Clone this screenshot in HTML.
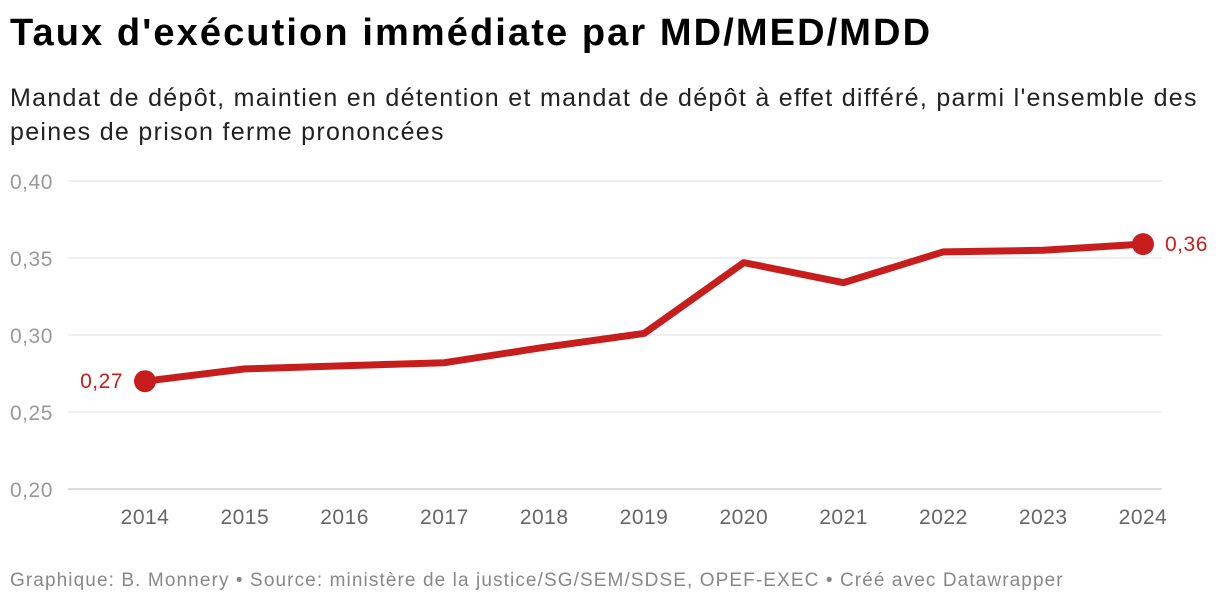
<!DOCTYPE html>
<html><head><meta charset="utf-8">
<style>
body{margin:0;width:1220px;height:606px;background:#fff;font-family:"Liberation Sans",sans-serif;overflow:hidden}
h1{position:absolute;left:10px;top:12px;margin:0;font-size:38px;font-weight:bold;color:#000;letter-spacing:2.1px;white-space:nowrap}
.sub{position:absolute;left:10px;top:81px;font-size:25px;line-height:34px;color:#222;width:1210px;letter-spacing:1.3px;white-space:nowrap}
.foot{position:absolute;left:10px;top:570px;font-size:19px;color:#888;letter-spacing:1.1px;white-space:nowrap}
svg{position:absolute;left:0;top:0}
</style></head><body>
<h1>Taux d'exécution immédiate par MD/MED/MDD</h1>
<div class="sub">Mandat de dépôt, maintien en détention et mandat de dépôt à effet différé, parmi l'ensemble des<br>peines de prison ferme prononcées</div>
<svg id="chart" width="1220" height="606"></svg>
<div class="foot">Graphique: B. Monnery • Source: ministère de la justice/SG/SEM/SDSE, OPEF-EXEC • Créé avec Datawrapper</div>
<script>
const years=["2014","2015","2016","2017","2018","2019","2020","2021","2022","2023","2024"];
const values=[0.270,0.278,0.280,0.282,0.292,0.301,0.347,0.334,0.354,0.355,0.359];
const yTicks=[0.20,0.25,0.30,0.35,0.40];
const yTickLabels=["0,20","0,25","0,30","0,35","0,40"];
const endLabels=["0,27","0,36"];
const NS="http://www.w3.org/2000/svg";
const svg=document.getElementById('chart');
const y=v=>489-(v-0.20)/0.20*308;
const x=i=>145+i*(1143-145)/(years.length-1);
function mk(t,a){const e=document.createElementNS(NS,t);for(const k in a)e.setAttribute(k,a[k]);svg.appendChild(e);return e;}
yTicks.forEach((t,i)=>{
 const l=mk('line',{x1:68,x2:1162,y1:y(t),y2:y(t),stroke:i===0?'#bbb':'#e0e0e0','stroke-width':1});
 
 
 const tx=mk('text',{x:10,y:y(t)+8,'font-size':21,fill:'#999','letter-spacing':0.5});
 tx.textContent=yTickLabels[i];
 
 
});
years.forEach((yr,i)=>{
 const tx=mk('text',{x:x(i),y:524,'font-size':21,fill:'#666','text-anchor':'middle','letter-spacing':0.5});
 tx.textContent=yr;
 
 
});
const p=mk('polyline',{points:values.map((v,i)=>x(i)+','+y(v)).join(' '),fill:'none',stroke:'#c71e1d','stroke-width':7,'stroke-linejoin':'round','stroke-linecap':'round'});


[0,values.length-1].forEach((i,k)=>{
 const c=mk('circle',{cx:x(i),cy:y(values[i]),r:11,fill:'#c71e1d'});
 
 
 const t=mk('text',{x:k===0?x(i)-22:x(i)+22,y:y(values[i])+7,'font-size':21,fill:'#c71e1d','text-anchor':k===0?'end':'start','letter-spacing':0.5});
 t.textContent=endLabels[k];
 
 
});
</script>
</body></html>
